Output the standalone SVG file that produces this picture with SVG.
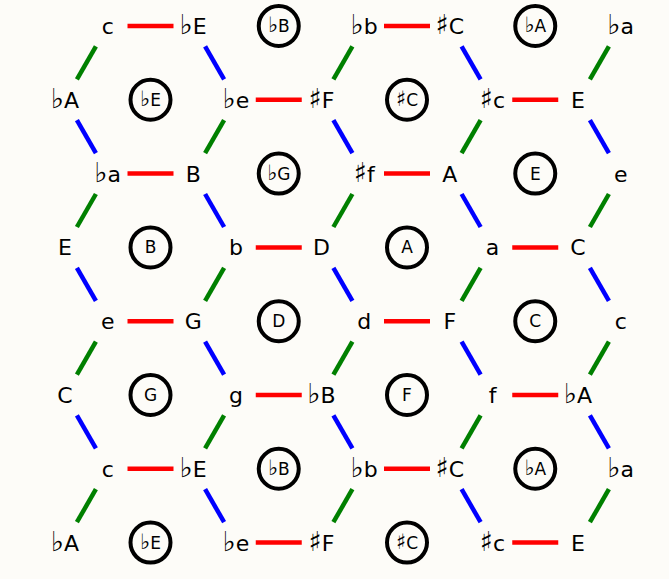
<svg xmlns="http://www.w3.org/2000/svg" width="669" height="579" viewBox="0 0 669 579">
<style>
.lbl{font-family:"DejaVu Sans","Noto Sans",sans-serif;font-size:22px;fill:#000;text-anchor:middle}
.key{font-family:"DejaVu Sans","Noto Sans",sans-serif;font-size:17px;fill:#000;text-anchor:middle}
.acc{font-family:"DejaVu Sans","Noto Sans CJK JP",sans-serif;font-size:1.25em;fill:#000}
.ring{fill:none;stroke:#000;stroke-width:4}
.r{stroke:#ff0000;stroke-width:4.5}
.g{stroke:#008000;stroke-width:4.5}
.b{stroke:#0000ff;stroke-width:4.5}
</style>
<rect x="0" y="0" width="669" height="579" fill="#fdfcf8"/>
<g id="connectors">
<line class="r" x1="127.5" y1="26" x2="173.5" y2="26"/>
<line class="r" x1="384" y1="26" x2="430" y2="26"/>
<line class="r" x1="127.5" y1="173.6" x2="173.5" y2="173.6"/>
<line class="r" x1="384" y1="173.6" x2="430" y2="173.6"/>
<line class="r" x1="127.5" y1="321.2" x2="173.5" y2="321.2"/>
<line class="r" x1="384" y1="321.2" x2="430" y2="321.2"/>
<line class="r" x1="127.5" y1="468.8" x2="173.5" y2="468.8"/>
<line class="r" x1="384" y1="468.8" x2="430" y2="468.8"/>
<line class="r" x1="255.75" y1="99.8" x2="301.75" y2="99.8"/>
<line class="r" x1="512.25" y1="99.8" x2="558.25" y2="99.8"/>
<line class="r" x1="255.75" y1="247.4" x2="301.75" y2="247.4"/>
<line class="r" x1="512.25" y1="247.4" x2="558.25" y2="247.4"/>
<line class="r" x1="255.75" y1="395" x2="301.75" y2="395"/>
<line class="r" x1="512.25" y1="395" x2="558.25" y2="395"/>
<line class="r" x1="255.75" y1="542.6" x2="301.75" y2="542.6"/>
<line class="r" x1="512.25" y1="542.6" x2="558.25" y2="542.6"/>
<line class="g" x1="95.9" y1="46.4" x2="76.9" y2="79.4"/>
<line class="b" x1="205.1" y1="46.4" x2="224.1" y2="79.4"/>
<line class="g" x1="352.4" y1="46.4" x2="333.4" y2="79.4"/>
<line class="b" x1="461.6" y1="46.4" x2="480.6" y2="79.4"/>
<line class="g" x1="608.9" y1="46.4" x2="589.9" y2="79.4"/>
<line class="b" x1="76.9" y1="120.2" x2="95.9" y2="153.2"/>
<line class="g" x1="224.1" y1="120.2" x2="205.1" y2="153.2"/>
<line class="b" x1="333.4" y1="120.2" x2="352.4" y2="153.2"/>
<line class="g" x1="480.6" y1="120.2" x2="461.6" y2="153.2"/>
<line class="b" x1="589.9" y1="120.2" x2="608.9" y2="153.2"/>
<line class="g" x1="95.9" y1="194" x2="76.9" y2="227"/>
<line class="b" x1="205.1" y1="194" x2="224.1" y2="227"/>
<line class="g" x1="352.4" y1="194" x2="333.4" y2="227"/>
<line class="b" x1="461.6" y1="194" x2="480.6" y2="227"/>
<line class="g" x1="608.9" y1="194" x2="589.9" y2="227"/>
<line class="b" x1="76.9" y1="267.8" x2="95.9" y2="300.8"/>
<line class="g" x1="224.1" y1="267.8" x2="205.1" y2="300.8"/>
<line class="b" x1="333.4" y1="267.8" x2="352.4" y2="300.8"/>
<line class="g" x1="480.6" y1="267.8" x2="461.6" y2="300.8"/>
<line class="b" x1="589.9" y1="267.8" x2="608.9" y2="300.8"/>
<line class="g" x1="95.9" y1="341.6" x2="76.9" y2="374.6"/>
<line class="b" x1="205.1" y1="341.6" x2="224.1" y2="374.6"/>
<line class="g" x1="352.4" y1="341.6" x2="333.4" y2="374.6"/>
<line class="b" x1="461.6" y1="341.6" x2="480.6" y2="374.6"/>
<line class="g" x1="608.9" y1="341.6" x2="589.9" y2="374.6"/>
<line class="b" x1="76.9" y1="415.4" x2="95.9" y2="448.4"/>
<line class="g" x1="224.1" y1="415.4" x2="205.1" y2="448.4"/>
<line class="b" x1="333.4" y1="415.4" x2="352.4" y2="448.4"/>
<line class="g" x1="480.6" y1="415.4" x2="461.6" y2="448.4"/>
<line class="b" x1="589.9" y1="415.4" x2="608.9" y2="448.4"/>
<line class="g" x1="95.9" y1="489.2" x2="76.9" y2="522.2"/>
<line class="b" x1="205.1" y1="489.2" x2="224.1" y2="522.2"/>
<line class="g" x1="352.4" y1="489.2" x2="333.4" y2="522.2"/>
<line class="b" x1="461.6" y1="489.2" x2="480.6" y2="522.2"/>
<line class="g" x1="608.9" y1="489.2" x2="589.9" y2="522.2"/>
</g>
<g id="k-0-0"><circle class="ring" cx="150.5" cy="99.8" r="20"/><text class="key" x="150.5" y="105.8"><tspan class="acc">♭︎</tspan>E</text></g>
<g id="k-0-1"><circle class="ring" cx="150.5" cy="247.4" r="20"/><text class="key" x="150.5" y="253.4">B</text></g>
<g id="k-0-2"><circle class="ring" cx="150.5" cy="395" r="20"/><text class="key" x="150.5" y="401">G</text></g>
<g id="k-0-3"><circle class="ring" cx="150.5" cy="542.6" r="20"/><text class="key" x="150.5" y="548.6"><tspan class="acc">♭︎</tspan>E</text></g>
<g id="k-1-0"><circle class="ring" cx="278.75" cy="26" r="20"/><text class="key" x="278.75" y="32"><tspan class="acc">♭︎</tspan>B</text></g>
<g id="k-1-1"><circle class="ring" cx="278.75" cy="173.6" r="20"/><text class="key" x="278.75" y="179.6"><tspan class="acc">♭︎</tspan>G</text></g>
<g id="k-1-2"><circle class="ring" cx="278.75" cy="321.2" r="20"/><text class="key" x="278.75" y="327.2">D</text></g>
<g id="k-1-3"><circle class="ring" cx="278.75" cy="468.8" r="20"/><text class="key" x="278.75" y="474.8"><tspan class="acc">♭︎</tspan>B</text></g>
<g id="k-2-0"><circle class="ring" cx="407" cy="99.8" r="20"/><text class="key" x="407" y="105.8"><tspan class="acc">♯︎</tspan>C</text></g>
<g id="k-2-1"><circle class="ring" cx="407" cy="247.4" r="20"/><text class="key" x="407" y="253.4">A</text></g>
<g id="k-2-2"><circle class="ring" cx="407" cy="395" r="20"/><text class="key" x="407" y="401">F</text></g>
<g id="k-2-3"><circle class="ring" cx="407" cy="542.6" r="20"/><text class="key" x="407" y="548.6"><tspan class="acc">♯︎</tspan>C</text></g>
<g id="k-3-0"><circle class="ring" cx="535.25" cy="26" r="20"/><text class="key" x="535.25" y="32"><tspan class="acc">♭︎</tspan>A</text></g>
<g id="k-3-1"><circle class="ring" cx="535.25" cy="173.6" r="20"/><text class="key" x="535.25" y="179.6">E</text></g>
<g id="k-3-2"><circle class="ring" cx="535.25" cy="321.2" r="20"/><text class="key" x="535.25" y="327.2">C</text></g>
<g id="k-3-3"><circle class="ring" cx="535.25" cy="468.8" r="20"/><text class="key" x="535.25" y="474.8"><tspan class="acc">♭︎</tspan>A</text></g>
<g id="n-0-1"><text class="lbl" x="107.75" y="34">c</text></g>
<g id="n-0-2"><text class="lbl" x="193.25" y="34"><tspan class="acc">♭︎</tspan>E</text></g>
<g id="n-0-5"><text class="lbl" x="364.25" y="34"><tspan class="acc">♭︎</tspan>b</text></g>
<g id="n-0-6"><text class="lbl" x="449.75" y="34"><tspan class="acc">♯︎</tspan>C</text></g>
<g id="n-0-9"><text class="lbl" x="620.75" y="34"><tspan class="acc">♭︎</tspan>a</text></g>
<g id="n-1-0"><text class="lbl" x="65" y="107.8"><tspan class="acc">♭︎</tspan>A</text></g>
<g id="n-1-3"><text class="lbl" x="236" y="107.8"><tspan class="acc">♭︎</tspan>e</text></g>
<g id="n-1-4"><text class="lbl" x="321.5" y="107.8"><tspan class="acc">♯︎</tspan>F</text></g>
<g id="n-1-7"><text class="lbl" x="492.5" y="107.8"><tspan class="acc">♯︎</tspan>c</text></g>
<g id="n-1-8"><text class="lbl" x="578" y="107.8">E</text></g>
<g id="n-2-1"><text class="lbl" x="107.75" y="181.6"><tspan class="acc">♭︎</tspan>a</text></g>
<g id="n-2-2"><text class="lbl" x="193.25" y="181.6">B</text></g>
<g id="n-2-5"><text class="lbl" x="364.25" y="181.6"><tspan class="acc">♯︎</tspan>f</text></g>
<g id="n-2-6"><text class="lbl" x="449.75" y="181.6">A</text></g>
<g id="n-2-9"><text class="lbl" x="620.75" y="181.6">e</text></g>
<g id="n-3-0"><text class="lbl" x="65" y="255.4">E</text></g>
<g id="n-3-3"><text class="lbl" x="236" y="255.4">b</text></g>
<g id="n-3-4"><text class="lbl" x="321.5" y="255.4">D</text></g>
<g id="n-3-7"><text class="lbl" x="492.5" y="255.4">a</text></g>
<g id="n-3-8"><text class="lbl" x="578" y="255.4">C</text></g>
<g id="n-4-1"><text class="lbl" x="107.75" y="329.2">e</text></g>
<g id="n-4-2"><text class="lbl" x="193.25" y="329.2">G</text></g>
<g id="n-4-5"><text class="lbl" x="364.25" y="329.2">d</text></g>
<g id="n-4-6"><text class="lbl" x="449.75" y="329.2">F</text></g>
<g id="n-4-9"><text class="lbl" x="620.75" y="329.2">c</text></g>
<g id="n-5-0"><text class="lbl" x="65" y="403">C</text></g>
<g id="n-5-3"><text class="lbl" x="236" y="403">g</text></g>
<g id="n-5-4"><text class="lbl" x="321.5" y="403"><tspan class="acc">♭︎</tspan>B</text></g>
<g id="n-5-7"><text class="lbl" x="492.5" y="403">f</text></g>
<g id="n-5-8"><text class="lbl" x="578" y="403"><tspan class="acc">♭︎</tspan>A</text></g>
<g id="n-6-1"><text class="lbl" x="107.75" y="476.8">c</text></g>
<g id="n-6-2"><text class="lbl" x="193.25" y="476.8"><tspan class="acc">♭︎</tspan>E</text></g>
<g id="n-6-5"><text class="lbl" x="364.25" y="476.8"><tspan class="acc">♭︎</tspan>b</text></g>
<g id="n-6-6"><text class="lbl" x="449.75" y="476.8"><tspan class="acc">♯︎</tspan>C</text></g>
<g id="n-6-9"><text class="lbl" x="620.75" y="476.8"><tspan class="acc">♭︎</tspan>a</text></g>
<g id="n-7-0"><text class="lbl" x="65" y="550.6"><tspan class="acc">♭︎</tspan>A</text></g>
<g id="n-7-3"><text class="lbl" x="236" y="550.6"><tspan class="acc">♭︎</tspan>e</text></g>
<g id="n-7-4"><text class="lbl" x="321.5" y="550.6"><tspan class="acc">♯︎</tspan>F</text></g>
<g id="n-7-7"><text class="lbl" x="492.5" y="550.6"><tspan class="acc">♯︎</tspan>c</text></g>
<g id="n-7-8"><text class="lbl" x="578" y="550.6">E</text></g>
</svg>
